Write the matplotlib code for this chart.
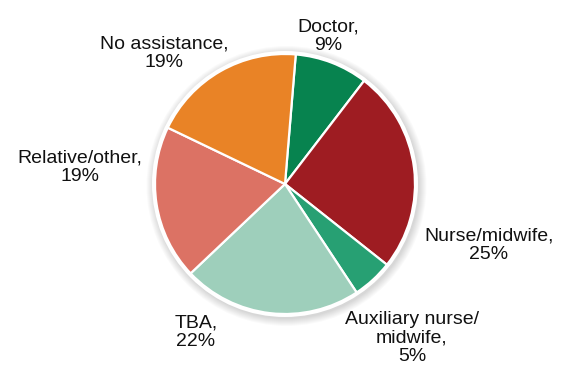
import matplotlib.pyplot as plt
from matplotlib.patches import Circle

# Birth attendant shares (percent)
CATEGORIES = ['Doctor', 'Nurse/midwife', 'Auxiliary nurse/\nmidwife', 'TBA',
              'Relative/other', 'No assistance']
SHARES = [9, 25, 5, 22, 19, 19]

COLOURS = ['#07834f', '#9e1c22', '#27a073', '#9ecfbb', '#dc7264', '#e98326']

# label anchor points in pixels (x, y from top)
LABEL_POS = [(328, 36), (489, 245), (412, 338), (196, 332), (80, 167), (164, 53)]

W, H = 561, 370
CENTRE = (285, H - 184)
RADIUS = 130

plt.rcParams['font.family'] = ['Liberation Sans', 'DejaVu Sans']

fig = plt.figure(figsize=(W / 100, H / 100), dpi=100)
ax = fig.add_axes([0, 0, 1, 1])

# soft drop shadow and white rim behind the pie
for i in range(8):
    ax.add_patch(Circle((CENTRE[0] + 1.5, CENTRE[1] - 2), RADIUS + 10 - i,
                        color='black', alpha=0.018, lw=0, zorder=0))
ax.add_patch(Circle(CENTRE, RADIUS + 3, color='white', lw=0, zorder=1))

ax.pie(SHARES, colors=COLOURS, startangle=85.25, counterclock=False,
       center=CENTRE, radius=RADIUS, frame=True,
       wedgeprops=dict(edgecolor='white', linewidth=1.6, zorder=2))
ax.set_xlim(0, W)
ax.set_ylim(0, H)
ax.set_aspect('equal')
ax.axis('off')

for name, share, (x, y) in zip(CATEGORIES, SHARES, LABEL_POS):
    ax.text(x, H - y, f'{name},\n{share}%', ha='center', va='center',
            fontsize=14, color='#111111', linespacing=1.08)

fig.savefig('out.png', dpi=100)
